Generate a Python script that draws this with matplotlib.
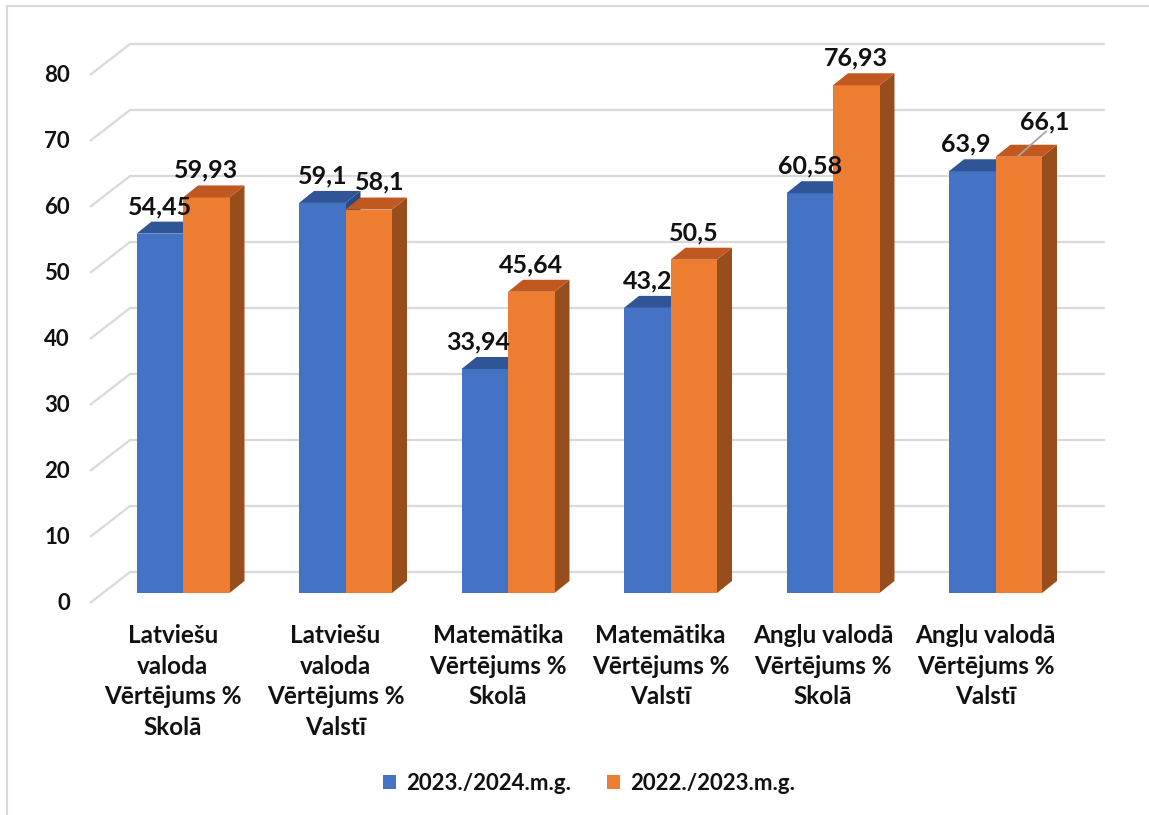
import matplotlib
matplotlib.use("Agg")
import matplotlib.pyplot as plt
from matplotlib.patches import Polygon, Patch, Rectangle

# ---------------- data ----------------
categories = [
    "Latviešu\nvaloda\nVērtējums %\nSkolā",
    "Latviešu\nvaloda\nVērtējums %\nValstī",
    "Matemātika\nVērtējums %\nSkolā",
    "Matemātika\nVērtējums %\nValstī",
    "Angļu valodā\nVērtējums %\nSkolā",
    "Angļu valodā\nVērtējums %\nValstī",
]
series_names = ["2023./2024.m.g.", "2022./2023.m.g."]
values_2024 = [54.45, 59.1, 33.94, 43.2, 60.58, 63.9]
values_2023 = [59.93, 58.1, 45.64, 50.5, 76.93, 66.1]
y_ticks = [0, 10, 20, 30, 40, 50, 60, 70, 80]

# ---------------- style ----------------
FONT = "Lato"
front_colors = ["#4472C4", "#ED7D31"]
top_colors = ["#2F5597", "#C0581F"]
side_colors = ["#2A4A84", "#974E1C"]
grid_color = "#D9D9D9"
text_color = "#111111"

W, H = 1149, 815
PX_X = 162.5      # pixels per category
PX_Y = 6.6        # pixels per value unit
X0_PX = 183       # pixel of category 0 center
Y0_PX = 593       # pixel of value 0 (bar fronts)

bar_w = 46.5 / PX_X
dep_x = 15 / PX_X
dep_y = 12 / PX_Y
grid_front_x = (90 - X0_PX) / PX_X
grid_back_x = (130 - X0_PX) / PX_X
grid_right_x = (1105 - X0_PX) / PX_X
grid_front_dy = -10 / PX_Y
grid_back_dy = 21 / PX_Y

fig = plt.figure(figsize=(W / 100, H / 100), dpi=100)
ax = fig.add_axes([0, 0, 1, 1])
ax.set_xlim(-X0_PX / PX_X, (W - X0_PX) / PX_X)
ax.set_ylim(-(H - Y0_PX) / PX_Y, Y0_PX / PX_Y)
ax.axis("off")

# chart border (only left & top visible)
ax.add_patch(Rectangle((0.006, -0.2), 1.2, 1.193, transform=ax.transAxes,
                       fill=False, edgecolor="#D9D9D9", lw=1.5, clip_on=False))

# gridlines (floor diagonal + back wall) and tick labels
for t in y_ticks:
    ax.plot([grid_front_x, grid_back_x, grid_right_x],
            [t + grid_front_dy, t + grid_back_dy, t + grid_back_dy],
            color=grid_color, lw=1.6, zorder=1, solid_capstyle="butt")
    ax.text((70 - X0_PX) / PX_X, t + grid_front_dy, str(t), ha="right",
            va="center", fontsize=16, fontweight="bold", family=FONT,
            color=text_color)

# bars
series = [values_2024, values_2023]
for i in range(len(categories)):
    for s, vals in enumerate(series):
        v = vals[i]
        x0 = i - bar_w + s * bar_w
        x1 = x0 + bar_w
        ax.bar(x0, v, width=bar_w, align="edge", color=front_colors[s],
               zorder=3, linewidth=0)
        ax.add_patch(Polygon([(x0, v), (x1, v), (x1 + dep_x, v + dep_y),
                              (x0 + dep_x, v + dep_y)], closed=True,
                             facecolor=top_colors[s], lw=0, zorder=3))
        ax.add_patch(Polygon([(x1, 0), (x1 + dep_x, dep_y),
                              (x1 + dep_x, v + dep_y), (x1, v)], closed=True,
                             facecolor=side_colors[s], lw=0, zorder=2.9))

# data labels
label_dx = [[0, 0], [0, 0.07], [-0.04, 0], [0, 0], [0, 0], [-0.04, 0.16]]
label_dy = [[0, 0], [0, 0], [0, 0], [0, 0], [0, 0], [0, 1.2]]
for i in range(len(categories)):
    for s, vals in enumerate(series):
        v = vals[i]
        xc = i - bar_w + s * bar_w + bar_w / 2
        txt = f"{v:g}".replace(".", ",")
        lx = xc + label_dx[i][s]
        ly = v + dep_y + 2.3 + label_dy[i][s]
        ax.text(lx, ly, txt, ha="center", va="center", fontsize=18,
                fontweight="bold", family=FONT, color=text_color, zorder=5)
        if label_dy[i][s] > 0:
            ax.plot([xc, xc + label_dx[i][s] * 1.05],
                    [v + dep_y * 0.1, v + dep_y + 1.3 + label_dy[i][s] * 0.6],
                    color="#A6A6A6", lw=1.3, zorder=4)

# category labels
for i, c in enumerate(categories):
    ax.text(i - 10 / PX_X, -(624 - Y0_PX) / PX_Y, c, ha="center", va="top",
            fontsize=17.5, fontweight="bold", family=FONT, color=text_color,
            linespacing=1.4)

# legend
handles = [Patch(facecolor=front_colors[k], edgecolor="none", label=series_names[k])
           for k in range(2)]
fig.legend(handles=handles, loc="center", bbox_to_anchor=(589 / W, (H - 783) / H),
           ncol=2, frameon=False, prop={"family": FONT, "weight": "bold", "size": 16},
           handlelength=0.6, handleheight=0.6, handletextpad=0.45,
           columnspacing=1.6, labelcolor=text_color)

fig.savefig("out.png", dpi=100, facecolor="white")
